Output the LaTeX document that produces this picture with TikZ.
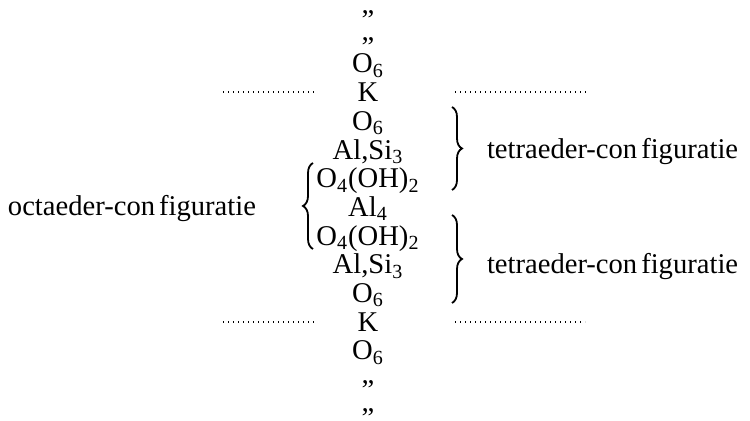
\documentclass[tikz,border=0pt]{standalone}
\usepackage{fontspec}
\setmainfont{Liberation Serif}
\usetikzlibrary{decorations.pathreplacing}
\begin{document}
\begin{tikzpicture}[x=0.5pt,y=-0.5pt,
  every node/.style={inner sep=0pt,outer sep=0pt,font=\fontsize{14.3}{14.3}\selectfont},
  row/.style={anchor=base},
  lbl/.style={anchor=base west},
  dots/.style={line width=0.8pt,dash pattern=on 0.5pt off 2pt},
  curly/.style={line width=0.9pt,decorate,decoration={brace,amplitude=5pt,aspect=0.5}}]
\useasboundingbox (0,0) rectangle (750,421);
\def\cx{368}
\node[row] (d1) at (\cx,14) {„};
\node[row] (d2) at (\cx,41) {„};
\node[row] (r1) at (\cx,73) {O\textsubscript{6}};
\node[row] (r2) at (\cx,101.7) {K};
\node[row] (r3) at (\cx,130.4) {O\textsubscript{6}};
\node[row] (r4) at (\cx,159.1) {Al,Si\textsubscript{3}};
\node[row] (r5) at (\cx,187.8) {O\textsubscript{4}(OH)\textsubscript{2}};
\node[row] (r6) at (\cx,216.5) {Al\textsubscript{4}};
\node[row] (r7) at (\cx,245.2) {O\textsubscript{4}(OH)\textsubscript{2}};
\node[row] (r8) at (\cx,273.9) {Al,Si\textsubscript{3}};
\node[row] (r9) at (\cx,302.6) {O\textsubscript{6}};
\node[row] (r10) at (\cx,331.3) {K};
\node[row] (r11) at (\cx,360) {O\textsubscript{6}};
\node[row] (d3) at (\cx,384) {„};
\node[row] (d4) at (\cx,412) {„};
% dotted lines
\coordinate (a1) at (223,92); \coordinate (a2) at (315,92);
\coordinate (b1) at (455,92); \coordinate (b2) at (587,92);
\coordinate (c1) at (223,322); \coordinate (c2) at (315,322);
\coordinate (e1) at (455,322); \coordinate (e2) at (585,322);
\draw[dots] (a1) -- (a2);
\draw[dots] (b1) -- (b2);
\draw[dots] (c1) -- (c2);
\draw[dots] (e1) -- (e2);
% braces
\coordinate (t1a) at (452,107); \coordinate (t1b) at (452,190);
\coordinate (t2a) at (452,215); \coordinate (t2b) at (452,303);
\coordinate (oa) at (313,249); \coordinate (ob) at (313,163);
\draw[curly] (t1a) -- (t1b);
\draw[curly] (t2a) -- (t2b);
\draw[curly] (oa) -- (ob);
% labels
\node[lbl] (l1) at (487,159) {tetraeder-con\kern2pt figuratie};
\node[lbl] (l2) at (487,274) {tetraeder-con\kern2pt figuratie};
\node[lbl] (l3) at (8,216) {octaeder-con\kern2pt figuratie};
\end{tikzpicture}
\end{document}
